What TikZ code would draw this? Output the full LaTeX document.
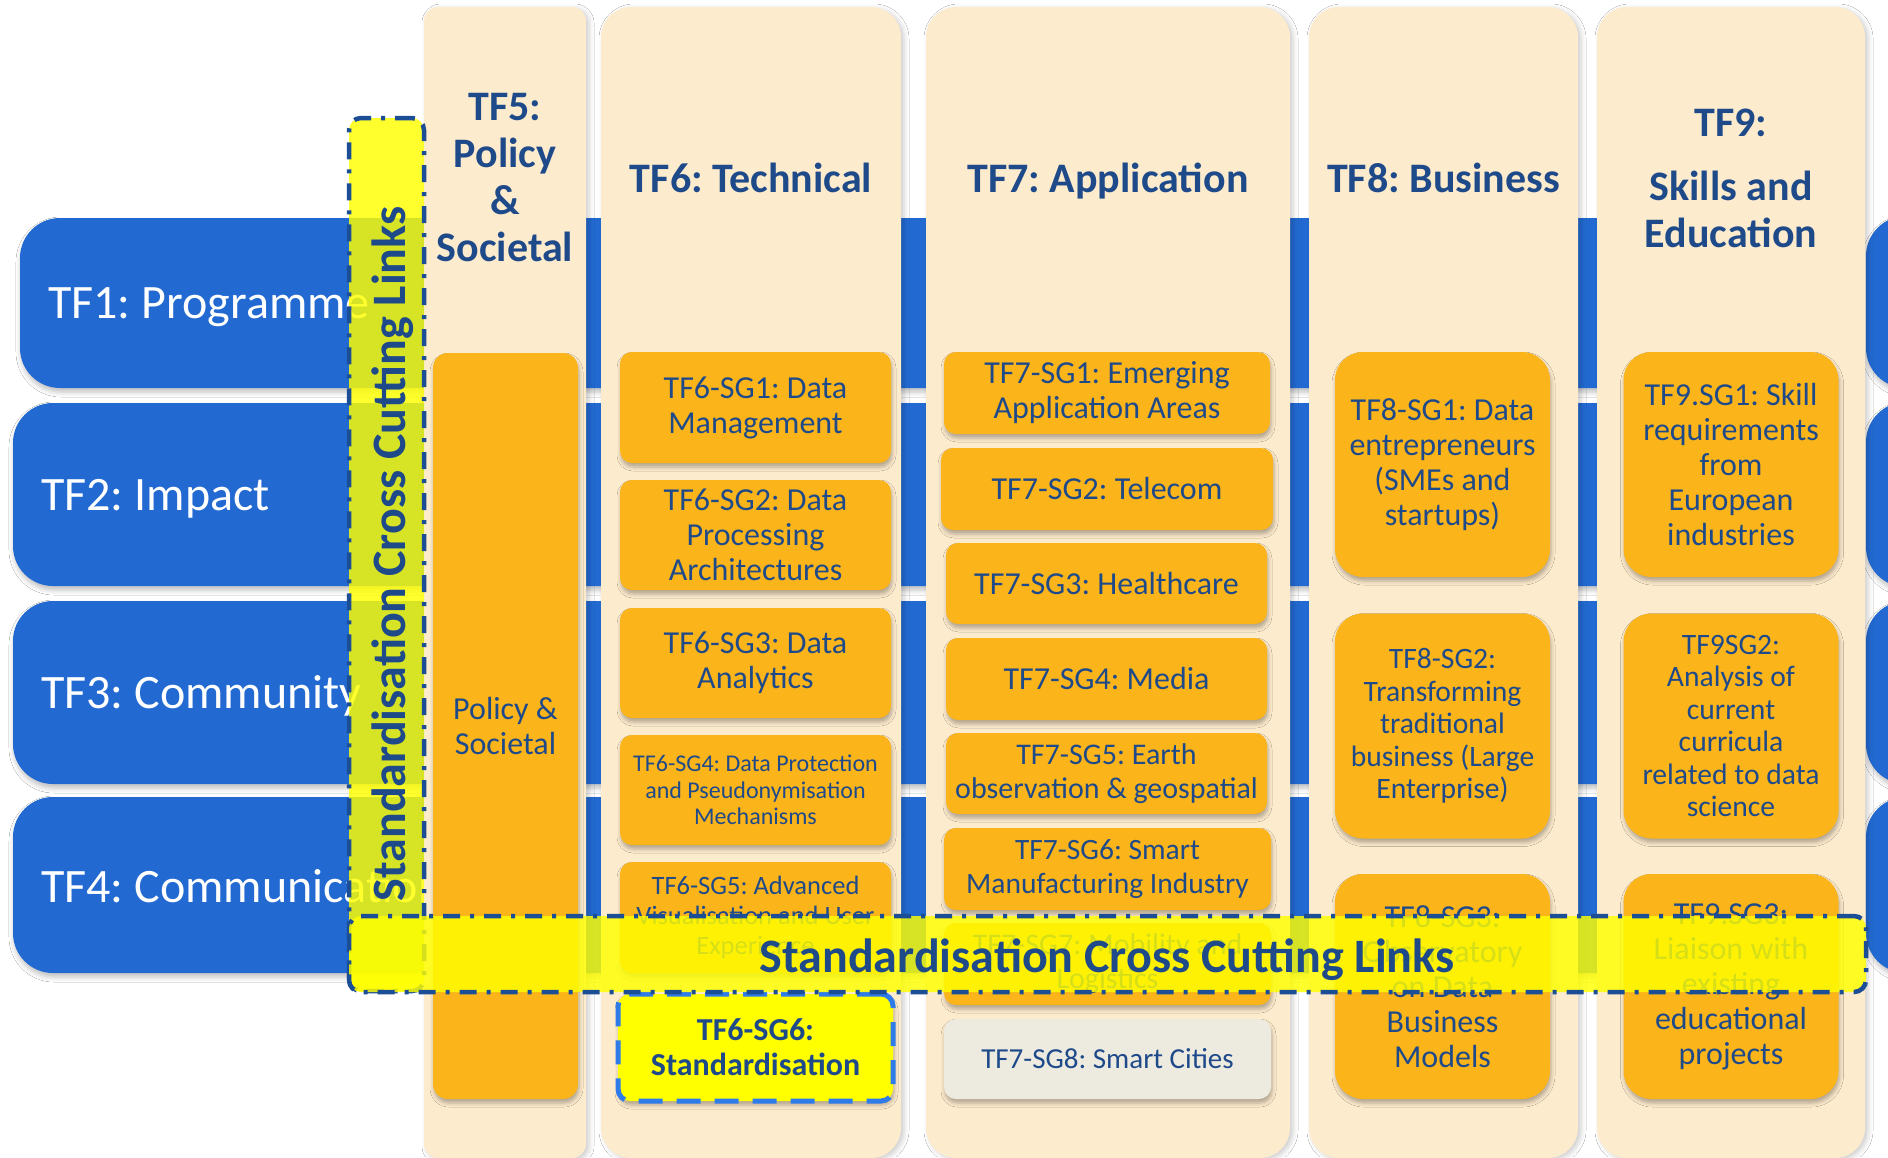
\documentclass[tikz,border=0pt]{standalone}
\usepackage{fontspec}
\setmainfont{Carlito}
\frenchspacing
\usetikzlibrary{shadows.blur}

\definecolor{barblue}{RGB}{34,106,210}
\definecolor{colpeach}{RGB}{253,235,205}
\definecolor{sgorange}{RGB}{251,180,26}
\definecolor{sggrey}{RGB}{237,234,224}
\definecolor{textblue}{RGB}{31,74,138}
\definecolor{bandyellow}{RGB}{255,255,0}
\definecolor{bandline}{RGB}{28,78,150}
\definecolor{sgline}{RGB}{47,123,234}

\tikzset{
    rowbar/.style={fill=barblue, rounded corners=40pt, inner sep=0pt,
        blur shadow={shadow xshift=1pt, shadow yshift=-4pt, shadow blur radius=5pt, shadow opacity=25}},
    rowtext/.style={anchor=base west, inner sep=0pt, text=white, font=\fontsize{48}{54}\selectfont},
    colbox/.style={fill=colpeach, rounded corners=30pt, inner sep=0pt, minimum height=1151pt,
        blur shadow={shadow xshift=3pt, shadow yshift=-2pt, shadow blur radius=5pt, shadow opacity=20}},
    headtext/.style={text=textblue, align=center, inner sep=0pt, font=\bfseries\fontsize{42}{47}\selectfont},
    sgbox/.style={fill=sgorange, rounded corners=12pt, inner sep=0pt, align=center, text=textblue,
        font=\fontsize{32}{35}\selectfont,
        blur shadow={shadow xshift=1pt, shadow yshift=-4pt, shadow blur radius=4pt, shadow opacity=30}},
    bigsg/.style={sgbox, rounded corners=28pt, minimum width=215pt, minimum height=225pt},
    band/.style={fill=bandyellow, fill opacity=0.82, draw=bandline, line width=4.5pt,
        dash pattern=on 17pt off 10pt on 4pt off 10pt, rounded corners=12pt, inner sep=0pt},
    bandtext/.style={anchor=base, text=textblue, inner sep=0pt, font=\bfseries\fontsize{48}{54}\selectfont}
}

\begin{document}
\begin{tikzpicture}[x=1pt, y=-1pt]

    % Fix the size of the picture
    \useasboundingbox (0,0) rectangle (1888,1157);
    \fill[white] (0,0) rectangle (1888,1157);
    \clip (0,0) rectangle (1888,1157);

    % Draw the four blue rows
    \node[rowbar, minimum width=1830pt, minimum height=170pt] (bar1) at (935,303) {};
    \node[rowbar, minimum width=1837pt, minimum height=183pt] (bar2) at (931.5,494.5) {};
    \node[rowbar, minimum width=1837pt, minimum height=183pt] (bar3) at (931.5,692.5) {};
    \node[rowbar, minimum width=1837pt, minimum height=176pt] (bar4) at (931.5,885) {};

    % The ends of the rows right of TF9
    \node[rowbar, minimum width=90pt, minimum height=172pt] (end1) at (1911,302) {};
    \node[rowbar, minimum width=90pt, minimum height=185pt] (end2) at (1911,494.5) {};
    \node[rowbar, minimum width=90pt, minimum height=183pt] (end3) at (1911,692.5) {};
    \node[rowbar, minimum width=90pt, minimum height=176pt] (end4) at (1911,885) {};

    % Labels of the rows
    \node[rowtext] (tf1) at (48,318) {TF1: Programme};
    \node[rowtext] (tf2) at (41,510) {TF2: Impact};
    \node[rowtext] (tf3) at (41,708) {TF3: Community};
    \node[rowtext] (tf4) at (41,902) {TF4: Communication};

    % Draw the five columns
    \node[colbox, rounded corners=14pt, minimum width=162pt] (col5) at (505,582.5) {};
    \node[colbox, minimum width=300pt] (col6) at (751,582.5) {};
    \node[colbox, minimum width=364pt] (col7) at (1108,582.5) {};
    \node[colbox, minimum width=269pt] (col8) at (1443.5,582.5) {};
    \node[colbox, minimum width=268pt] (col9) at (1731,582.5) {};

    % Titles of the columns
    \node[headtext] (hd5) at (505,177.5) {TF5:\\Policy\\\&\\Societal};
    \node[headtext, anchor=base] (hd6) at (751,192) {TF6: Technical};
    \node[headtext, anchor=base] (hd7) at (1108,192) {TF7: Application};
    \node[headtext, anchor=base] (hd8) at (1443.5,192) {TF8: Business};
    \node[headtext] (hd9) at (1731,178) {TF9:\\[17pt]Skills and\\Education};

    % TF5 has one long box
    \node[sgbox, rounded corners=15pt, minimum width=145pt, minimum height=746pt] (tf5sg) at (505.5,726) {Policy \&\\Societal};

    % Sub-groups of TF6
    \node[sgbox, minimum width=271pt, minimum height=111pt] (tf6sg1) at (755.5,407.5) {TF6-SG1: Data\\Management};
    \node[sgbox, minimum width=271pt, minimum height=110pt] (tf6sg2) at (755.5,535) {TF6-SG2: Data\\Processing\\Architectures};
    \node[sgbox, minimum width=271pt, minimum height=110pt] (tf6sg3) at (755.5,663) {TF6-SG3: Data\\Analytics};
    \node[sgbox, minimum width=271pt, minimum height=110pt, font=\fontsize{24}{26.5}\selectfont] (tf6sg4) at (755.5,790) {TF6-SG4: Data Protection\\and Pseudonymisation\\Mechanisms};
    \node[sgbox, minimum width=271pt, minimum height=111pt, font=\fontsize{26.5}{30}\selectfont] (tf6sg5) at (755.5,917.5) {TF6-SG5: Advanced\\Visualisation and User\\Experience};
    \node[sgbox, fill=bandyellow, draw=sgline, line width=5pt, dash pattern=on 24pt off 14pt,
        font=\bfseries\fontsize{32}{35}\selectfont, minimum width=275pt, minimum height=107pt] (tf6sg6) at (755.5,1047.5) {TF6-SG6:\\Standardisation};

    % Sub-groups of TF7
    \node[sgbox, minimum width=326pt, minimum height=82pt] (tf7sg1) at (1107,393) {TF7-SG1: Emerging\\Application Areas};
    \node[sgbox, minimum width=332pt, minimum height=82pt] (tf7sg2) at (1107,489) {TF7-SG2: Telecom};
    \node[sgbox, minimum width=321pt, minimum height=81pt] (tf7sg3) at (1106.5,583.5) {TF7-SG3: Healthcare};
    \node[sgbox, minimum width=321pt, minimum height=82pt] (tf7sg4) at (1106.5,679) {TF7-SG4: Media};
    \node[sgbox, minimum width=321pt, minimum height=81pt, font=\fontsize{30}{34}\selectfont] (tf7sg5) at (1106.5,773.5) {TF7-SG5: Earth\\observation \& geospatial};
    \node[sgbox, minimum width=327pt, minimum height=82pt, font=\fontsize{29.5}{34}\selectfont] (tf7sg6) at (1107.5,869) {TF7-SG6: Smart\\Manufacturing Industry};
    \node[sgbox, minimum width=327pt, minimum height=82pt, font=\fontsize{30}{34}\selectfont] (tf7sg7) at (1107.5,964) {TF7-SG7: Mobility and\\Logistics};
    \node[sgbox, fill=sggrey, minimum width=327pt, minimum height=80pt, font=\fontsize{29}{34}\selectfont] (tf7sg8) at (1107.5,1059) {TF7-SG8: Smart Cities};

    % Sub-groups of TF8
    \node[bigsg] (tf8sg1) at (1442.5,464.5) {TF8-SG1: Data\\entrepreneurs\\(SMEs and\\startups)};
    \node[bigsg, font=\fontsize{29.6}{32.5}\selectfont] (tf8sg2) at (1442.5,726) {TF8-SG2:\\Transforming\\traditional\\business (Large\\Enterprise)};
    \node[bigsg] (tf8sg3) at (1442.5,986.5) {TF8-SG3:\\Observatory\\on Data\\Business\\Models};

    % Sub-groups of TF9
    \node[bigsg] (tf9sg1) at (1731,464.5) {TF9.SG1: Skill\\requirements\\from\\European\\industries};
    \node[bigsg, font=\fontsize{29.6}{32.5}\selectfont] (tf9sg2) at (1731,726) {TF9SG2:\\Analysis of\\current\\curricula\\related to data\\science};
    \node[bigsg] (tf9sg3) at (1731,986.5) {TF9.SG3:\\Liaison with\\existing\\educational\\projects};

    % The two standardisation bands on top
    \node[band, minimum width=75pt, minimum height=873pt] (vband) at (386.5,554.5) {};
    \node[bandtext, rotate=90] (vtext) at (405,554) {Standardisation Cross Cutting Links};
    \node[band, minimum width=1517pt, minimum height=76pt] (hband) at (1107.5,954) {};
    \node[bandtext] (htext) at (1107,972) {Standardisation Cross Cutting Links};

\end{tikzpicture}
\end{document}
